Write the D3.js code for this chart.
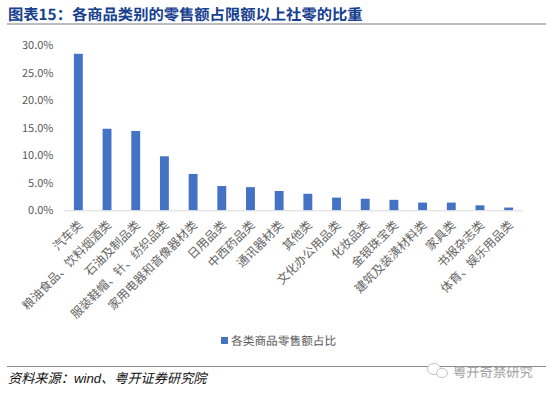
<!DOCTYPE html>
<html><head><meta charset="utf-8">
<script src="https://cdn.jsdelivr.net/npm/d3@7"></script>
<style>html,body{margin:0;padding:0;background:#fff}svg{display:block}text{font-family:"Noto Sans CJK SC","Noto Sans",sans-serif;text-rendering:geometricPrecision}</style>
</head><body><svg id="c" width="550" height="395"></svg>
<script>
const categories=["汽车类","粮油食品\u3001饮料烟酒类","石油及制品类","服装鞋帽\u3001针\u3001纺织品类","家用电器和音像器材类","日用品类","中西药品类","通讯器材类","其他类","文化办公用品类","化妆品类","金银珠宝类","建筑及装潢材料类","家具类","书报杂志类","体育\u3001娱乐用品类"];
const values=[28.4,14.8,14.4,9.8,6.6,4.4,4.2,3.5,3.0,2.3,2.1,1.9,1.4,1.4,0.9,0.5];
const yTicks=[0,5,10,15,20,25,30];
const titleText="图表15\uFF1A各商品类别的零售额占限额以上社零的比重";
const legendText="各类商品零售额占比";
const sourceText="资料来源\uFF1Awind\u3001粤开证券研究院";
const watermarkText="粤开奇禁研究";

const svg=d3.select("#c");
const x=d3.scaleBand().domain(categories).range([64,523]).paddingInner(0.69).paddingOuter(0.345);
const y=d3.scaleLinear().domain([0,30]).range([210.3,45]);

svg.append("text").attr("x",8).attr("y",20).attr("font-size",15.3).attr("font-weight",700).attr("fill","#17408f").text(titleText);
svg.append("rect").attr("x",7).attr("y",23).attr("width",539).attr("height",2).attr("fill","#bdbdbd");

svg.append("g").selectAll("text").data(yTicks).join("text")
 .attr("x",53.5).attr("y",d=>y(d)+4).attr("text-anchor","end").attr("font-size",11).attr("fill","#595959")
 .text(d=>d.toFixed(1)+"%");

svg.append("g").selectAll("rect").data(categories).join("rect")
 .attr("x",d=>x(d)).attr("width",x.bandwidth())
 .attr("y",(d,i)=>y(values[i])).attr("height",(d,i)=>y(0)-y(values[i]))
 .attr("fill","#4472c4");

svg.append("line").attr("x1",64).attr("x2",523).attr("y1",y(0)+.5).attr("y2",y(0)+.5).attr("stroke","#d9d9d9");

svg.append("g").selectAll("text").data(categories).join("text")
 .attr("text-anchor","end").attr("font-size",12).attr("fill","#666")
 .attr("transform",d=>`translate(${x(d)+x.bandwidth()/2+5},${y(0)+15.5}) rotate(-45)`)
 .text(d=>d);

svg.append("rect").attr("x",221).attr("y",337).attr("width",7).attr("height",7).attr("fill","#4472c4");
svg.append("text").attr("x",231).attr("y",344.5).attr("font-size",11.7).attr("fill","#595959").text(legendText);

svg.append("line").attr("x1",7).attr("x2",546).attr("y1",366.5).attr("y2",366.5).attr("stroke","#8c8c8c");
svg.append("text").attr("x",8).attr("y",383).attr("font-size",13.2).attr("font-style","italic").attr("fill","#111")
 .style("font-family",'"Liberation Sans","Noto Sans CJK SC",sans-serif').text(sourceText);
svg.append("ellipse").attr("cx",434).attr("cy",369).attr("rx",6.5).attr("ry",5.5).attr("fill","#fff").attr("stroke","#c4c4c4");
svg.append("ellipse").attr("cx",442).attr("cy",373).attr("rx",5.5).attr("ry",4.5).attr("fill","#fff").attr("stroke","#c4c4c4");
svg.append("text").attr("x",453).attr("y",376.5).attr("font-size",13.3).attr("fill","#a0a0a0").text(watermarkText);
</script></body></html>
